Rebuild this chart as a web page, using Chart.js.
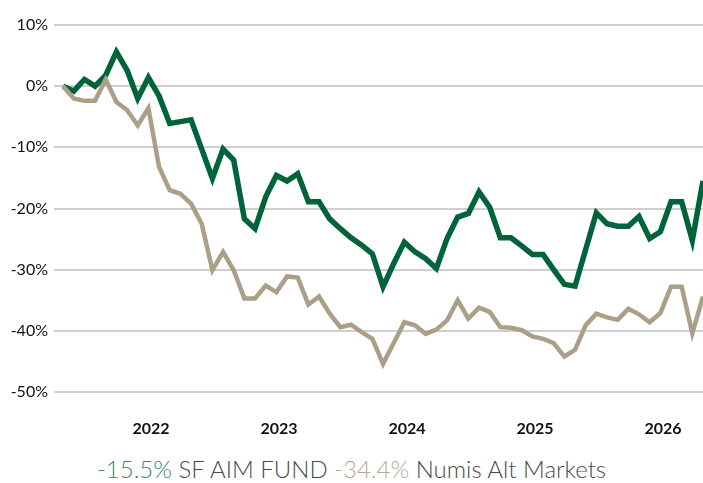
<!DOCTYPE html>
<html>
<head>
<meta charset="utf-8">
<script src="https://cdn.jsdelivr.net/npm/chart.js@4.4.1/dist/chart.umd.min.js"></script>
<style>
  html, body { margin: 0; padding: 0; background: #fff; }
  #wrap { position: relative; width: 703px; height: 445px; }
  #legend {
    width: 703px; text-align: center; font-family: Lato, "Open Sans", sans-serif;
    font-weight: 300; font-size: 24px; color: #4a4a4a; margin-top: 9px; white-space: nowrap;
  }
  #legend .fund { color: #3b8a5f; }
  #legend .index { color: #b4a993; }
</style>
</head>
<body>
<div id="wrap"><canvas id="chart"></canvas></div>
<div id="legend"></div>
<script>
// month index from the first observation
const months = Array.from({ length: 61 }, (_, i) => i);

const fundName = 'SF AIM FUND';
const fundTotal = '-15.5%';
const fundValues = [
  0, -0.8, 1.1, 0, 1.8, 5.6, 2.6, -2.0, 1.4, -1.6,
  -6.1, -5.8, -5.5, -10.3, -15.1, -10.3, -12.1, -21.7, -23.3, -18.1,
  -14.6, -15.5, -14.3, -18.9, -18.9, -21.7, -23.3, -24.8, -26.0, -27.4,
  -32.8, -29.0, -25.5, -27.1, -28.2, -29.8, -24.9, -21.4, -20.8, -17.3,
  -19.8, -24.8, -24.8, -26.1, -27.5, -27.5, -30.0, -32.4, -32.7, -26.7,
  -20.7, -22.5, -22.9, -22.9, -21.3, -24.9, -23.8, -18.9, -18.9, -25.2,
  -15.5
];

const indexName = 'Numis Alt Markets';
const indexTotal = '-34.4%';
const indexValues = [
  0, -2.0, -2.4, -2.4, 1.1, -2.6, -3.9, -6.4, -3.6, -13.2,
  -17.0, -17.6, -19.2, -22.5, -30.1, -27.1, -30.1, -34.7, -34.7, -32.6,
  -33.7, -31.1, -31.3, -35.7, -34.4, -37.2, -39.4, -39.0, -40.2, -41.3,
  -45.4, -42.0, -38.6, -39.1, -40.5, -39.8, -38.3, -35.0, -38.0, -36.2,
  -36.9, -39.4, -39.5, -39.9, -40.9, -41.3, -42.0, -44.2, -43.1, -39.1,
  -37.2, -37.8, -38.2, -36.4, -37.3, -38.6, -37.1, -32.8, -32.8, -40.4,
  -34.4
];

// year labels and where they fall on the month index axis
const yearLabels = ['2022', '2023', '2024', '2025', '2026'];
const yearTicks = [8.25, 20.25, 32.25, 44.25, 56.25];

const yTicks = [10, 0, -10, -20, -30, -40, -50];

document.getElementById('legend').innerHTML =
  `<span class="fund">${fundTotal}</span> ${fundName} <span class="index">${indexTotal}</span> ${indexName}`;

const ctx = document.getElementById('chart').getContext('2d');
new Chart(ctx, {
  type: 'line',
  data: {
    datasets: [
      {
        label: indexName,
        data: months.map((m, i) => ({ x: m, y: indexValues[i] })),
        borderColor: '#ab9f88',
        borderWidth: 4.5,
        pointRadius: 0,
        tension: 0,
        borderJoinStyle: 'miter'
      },
      {
        label: fundName,
        data: months.map((m, i) => ({ x: m, y: fundValues[i] })),
        borderColor: '#00643a',
        borderWidth: 5.5,
        pointRadius: 0,
        tension: 0,
        borderJoinStyle: 'miter'
      }
    ]
  },
  options: {
    responsive: true,
    maintainAspectRatio: false,
    animation: false,
    layout: { padding: { top: 25, right: 0, left: 0, bottom: 0 } },
    plugins: { legend: { display: false }, tooltip: { enabled: false } },
    scales: {
      x: {
        type: 'linear',
        min: -0.85,
        max: 60,
        afterBuildTicks: (scale) => {
          scale.ticks = yearTicks.map(v => ({ value: v }));
        },
        afterFit: (scale) => {
          scale.height = 53;
          scale.paddingLeft = 0;
          scale.paddingRight = 0;
        },
        grid: { display: false, drawTicks: false },
        border: { display: false },
        ticks: {
          autoSkip: false,
          maxRotation: 0,
          padding: 27,
          color: '#111',
          font: { family: 'Lato, "Open Sans", sans-serif', size: 16, weight: 'bold' },
          callback: (v) => {
            const i = yearTicks.indexOf(v);
            return i >= 0 ? yearLabels[i] : '';
          }
        }
      },
      y: {
        min: -50,
        max: 10,
        afterBuildTicks: (scale) => {
          scale.ticks = yTicks.map(v => ({ value: v }));
        },
        afterFit: (scale) => { scale.width = 54; },
        grid: { color: '#cfcfcf', lineWidth: 2, drawTicks: false },
        border: { display: false },
        ticks: {
          padding: 6,
          color: '#111',
          font: { family: 'Lato, "Open Sans", sans-serif', size: 16 },
          callback: (v) => v + '%'
        }
      }
    }
  }
});
</script>
</body>
</html>
